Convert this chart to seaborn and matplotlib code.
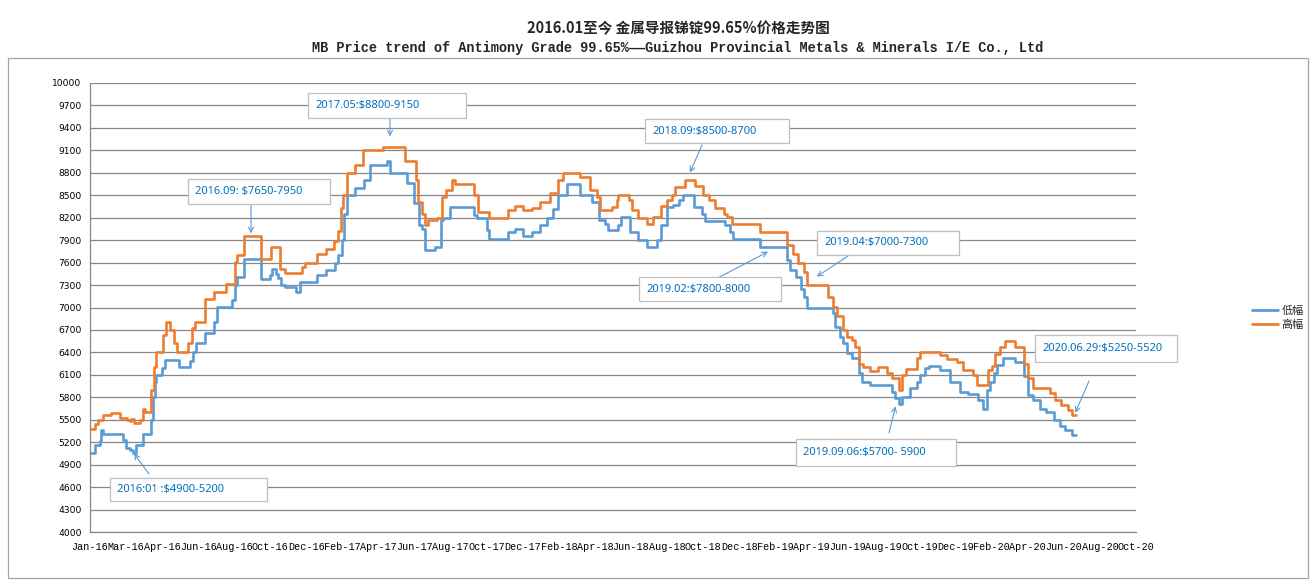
import numpy as np
import pandas as pd
import seaborn as sns
import matplotlib
matplotlib.use('Agg')
import matplotlib.pyplot as plt
import matplotlib.dates as mdates
from matplotlib.patches import Rectangle
from matplotlib.lines import Line2D

# ---- data (days after the chart start, price in USD/t) ----
start = '2016-01-01'

low_days = [1, 8, 16, 19, 22, 55, 60, 66, 72, 77, 88, 101, 105, 108, 110, 119, 124, 148,
            166, 171, 177, 191, 206, 212, 236, 241, 245, 256, 285, 299, 302, 310, 313, 317,
            324, 343, 350, 377, 392, 407, 413, 419, 423, 427, 441, 455, 466, 494, 499, 527,
            539, 547, 552, 557, 574, 584, 588, 599, 638, 643, 660, 663, 696, 707, 721, 735,
            749, 760, 771, 779, 793, 815, 835, 846, 857, 862, 879, 884, 898, 912, 926, 943,
            950, 959, 970, 979, 987, 1004, 1018, 1023, 1056, 1065, 1070, 1115, 1159, 1164,
            1175, 1183, 1187, 1192, 1236, 1239, 1248, 1253, 1259, 1267, 1280, 1284, 1298,
            1334, 1339, 1345, 1350, 1364, 1375, 1381, 1389, 1395, 1414, 1431, 1447, 1461,
            1478, 1485, 1492, 1497, 1503, 1508, 1519, 1539, 1553, 1561, 1569, 1580, 1591,
            1603, 1614, 1622, 1633, 1641]
low_vals = [5050, 5165, 5210, 5360, 5310, 5230, 5120, 5100, 5050, 5165, 5310, 5500, 5800, 6000,
            6100, 6190, 6300, 6200, 6280, 6410, 6520, 6660, 6800, 7010, 7100, 7300, 7410, 7650,
            7385, 7430, 7510, 7450, 7390, 7300, 7280, 7210, 7345, 7430, 7500, 7590, 7700, 7900,
            8250, 8500, 8600, 8700, 8910, 8960, 8800, 8660, 8400, 8100, 8050, 7765, 7810, 8165,
            8200, 8340, 8230, 8190, 8030, 7910, 8010, 8055, 7950, 8010, 8100, 8200, 8320, 8500,
            8655, 8500, 8410, 8165, 8120, 8030, 8100, 8210, 8010, 7900, 7810, 7900, 8100, 8340,
            8365, 8430, 8500, 8340, 8255, 8155, 8100, 8010, 7910, 7810, 7630, 7500, 7410, 7250,
            7145, 7000, 6920, 6745, 6610, 6520, 6390, 6320, 6120, 6010, 5965, 5875, 5790, 5710,
            5810, 5920, 6010, 6100, 6190, 6220, 6165, 6010, 5875, 5845, 5765, 5650, 5900, 6010,
            6120, 6230, 6320, 6275, 6080, 5830, 5765, 5650, 5610, 5500, 5410, 5365, 5300, 5300]

high_days = [1, 8, 13, 22, 35, 50, 62, 66, 69, 73, 83, 88, 92, 102, 107, 110, 121, 127, 133,
             140, 145, 163, 169, 174, 191, 206, 227, 241, 245, 257, 285, 301, 316, 324, 352,
             358, 378, 392, 406, 413, 418, 421, 427, 441, 454, 487, 524, 542, 546, 552, 557,
             563, 577, 585, 593, 602, 607, 638, 646, 663, 696, 707, 721, 735, 749, 765, 779,
             786, 815, 831, 843, 848, 868, 876, 879, 896, 901, 912, 926, 937, 950, 959, 968,
             973, 990, 1006, 1020, 1029, 1040, 1054, 1060, 1068, 1115, 1159, 1170, 1178, 1187,
             1192, 1228, 1236, 1242, 1253, 1259, 1267, 1273, 1280, 1286, 1298, 1311, 1325,
             1334, 1345, 1350, 1358, 1375, 1381, 1414, 1425, 1442, 1453, 1469, 1475, 1493,
             1500, 1505, 1514, 1522, 1539, 1553, 1561, 1569, 1597, 1605, 1616, 1627, 1633, 1641]
high_vals = [5370, 5440, 5500, 5570, 5590, 5520, 5500, 5480, 5510, 5450, 5500, 5650, 5610, 5900,
             6200, 6400, 6630, 6810, 6700, 6520, 6400, 6520, 6720, 6810, 7110, 7210, 7310, 7610,
             7700, 7950, 7650, 7810, 7520, 7460, 7540, 7600, 7710, 7780, 7890, 8020, 8330, 8510,
             8800, 8900, 9100, 9150, 8960, 8700, 8410, 8250, 8100, 8165, 8200, 8480, 8570, 8700,
             8655, 8500, 8280, 8200, 8300, 8350, 8300, 8335, 8410, 8525, 8710, 8800, 8745, 8570,
             8480, 8300, 8340, 8430, 8500, 8430, 8300, 8200, 8110, 8210, 8350, 8430, 8500, 8610,
             8700, 8630, 8500, 8430, 8330, 8255, 8210, 8110, 8010, 7830, 7720, 7590, 7475, 7300,
             7145, 7010, 6880, 6700, 6610, 6565, 6475, 6250, 6210, 6145, 6210, 6120, 6055, 5900,
             6100, 6175, 6320, 6400, 6365, 6310, 6275, 6165, 6100, 5965, 6165, 6220, 6385, 6475,
             6555, 6475, 6250, 6055, 5920, 5855, 5765, 5700, 5630, 5560, 5560]

series_names = ['低幅', '高幅']
series_colors = ['#5B9BD5', '#ED7D31']

y_ticks = [4000, 4300, 4600, 4900, 5200, 5500, 5800, 6100, 6400, 6700, 7000,
           7300, 7600, 7900, 8200, 8500, 8800, 9100, 9400, 9700, 10000]
x_tick_step_days = 60
x_tick_count = 30

title_cn = '2016.01至今 金属导报锑锭99.65%价格走势图'
title_en = 'MB Price trend of Antimony Grade 99.65%——Guizhou Provincial Metals & Minerals I/E Co., Ltd'

# note text, target day, target price
note_texts = ['2016.09: $7650-7950', '2017.05:$8800-9150', '2018.09:$8500-8700',
              '2019.02:$7800-8000', '2019.04:$7000-7300', '2019.09.06:$5700- 5900',
              '2020.06.29:$5250-5520', '2016:01 :$4900-5200']
note_days = [268, 499, 998, 1128, 1209, 1340, 1639, 73]
note_vals = [7990, 9285, 8802, 7746, 7413, 5680, 5594, 5050]

# layout of note boxes / arrow tails in figure pixels (top-left origin)
note_boxes = [(188, 179, 330, 204), (308, 93, 466, 118), (645, 119, 789, 143),
              (639, 277, 781, 301), (817, 231, 959, 255), (796, 439, 956, 466),
              (1035, 335, 1177, 362), (110, 478, 267, 501)]
note_tails = [(251, 205), (390, 118), (702, 145), (712, 281), (848, 256),
              (889, 433), (1089, 381), (149, 474)]

W, H = 1316, 587


def fx(x):
    return x / W


def fy(y):
    return 1 - y / H


# ---- build table ----
t0 = pd.Timestamp(start)
low = pd.DataFrame({'date': t0 + pd.to_timedelta(low_days, unit='D'),
                    'price': low_vals, 'series': series_names[0]})
high = pd.DataFrame({'date': t0 + pd.to_timedelta(high_days, unit='D'),
                     'price': high_vals, 'series': series_names[1]})
df = pd.concat([low, high], ignore_index=True)

sns.set_theme(style='white')
plt.rcParams['font.family'] = ['Noto Sans CJK SC', 'DejaVu Sans']

fig = plt.figure(figsize=(W / 100, H / 100), dpi=100)
ax = fig.add_axes([fx(90), fy(532), fx(1136) - fx(90), fy(83) - fy(532)])

sns.lineplot(data=df, x='date', y='price', hue='series', palette=series_colors,
             drawstyle='steps-post', linewidth=1.9, estimator=None,
             legend=False, ax=ax)

# axes styling
x_ticks = pd.date_range(start, periods=x_tick_count, freq=f'{x_tick_step_days}D')
ax.set_xlim(x_ticks[0], x_ticks[-1])
ax.set_ylim(y_ticks[0], y_ticks[-1])
ax.set_xticks(x_ticks)
ax.set_xticklabels([d.strftime('%b-%y') for d in x_ticks],
                   fontfamily='Liberation Mono', fontsize=7.3)
ax.set_yticks(y_ticks)
ax.set_yticklabels([str(v) for v in y_ticks], fontfamily='DejaVu Sans', fontsize=6.6)
ax.set_xlabel('')
ax.set_ylabel('')
ax.yaxis.grid(True, color='#878787', linewidth=0.9)
ax.xaxis.grid(False)
ax.set_axisbelow(True)
for side in ['top', 'right']:
    ax.spines[side].set_visible(False)
for side in ['left', 'bottom']:
    ax.spines[side].set_color('#878787')
    ax.spines[side].set_linewidth(0.9)
ax.tick_params(axis='x', direction='out', length=4, width=0.8, color='#878787', pad=3,
               labelcolor='#000000')
ax.tick_params(axis='y', direction='out', length=4, width=0.8, color='#878787', pad=2,
               labelcolor='#000000')

# outer chart border
fig.patches.append(Rectangle((fx(8), fy(578)), fx(1308) - fx(8), fy(58) - fy(578),
                             transform=fig.transFigure, fill=False,
                             edgecolor='#A6A6A6', linewidth=0.9, zorder=0))

# titles
fig.text(fx(678), fy(28), title_cn, ha='center', va='center', fontsize=10.5,
         fontweight='bold', family=['Noto Sans CJK SC'])
fig.text(fx(678), fy(48), title_en, ha='center', va='center', fontsize=9.8,
         fontweight='bold', family=['Liberation Mono', 'Noto Sans CJK SC'])

# notes
for text, day, val, box, tail in zip(note_texts, note_days, note_vals, note_boxes, note_tails):
    bx0, by0, bx1, by1 = box
    fig.patches.append(Rectangle((fx(bx0), fy(by1)), fx(bx1) - fx(bx0), fy(by0) - fy(by1),
                                 transform=fig.transFigure, facecolor='white',
                                 edgecolor='#BFBFBF', linewidth=0.9, zorder=2))
    fig.text(fx(bx0 + 7), fy((by0 + by1) / 2), text, ha='left', va='center',
             color='#0070C0', fontsize=8, family=['Noto Sans'], zorder=3)
    target = mdates.date2num(t0 + pd.Timedelta(days=day))
    ax.annotate('', xy=(target, val), xycoords='data',
                xytext=(fx(tail[0]), fy(tail[1])), textcoords='figure fraction',
                arrowprops=dict(arrowstyle='->', color='#5B9BD5', lw=0.8,
                                shrinkA=0, shrinkB=0, mutation_scale=9))

# legend
handles = [Line2D([0], [0], color=c, linewidth=2.0) for c in series_colors]
fig.legend(handles, series_names, loc='center left', bbox_to_anchor=(fx(1248), fy(318)),
           frameon=False, fontsize=8, handlelength=2.3, handletextpad=0.3,
           labelspacing=0.35, borderaxespad=0)

fig.savefig('out.png', dpi=100)
